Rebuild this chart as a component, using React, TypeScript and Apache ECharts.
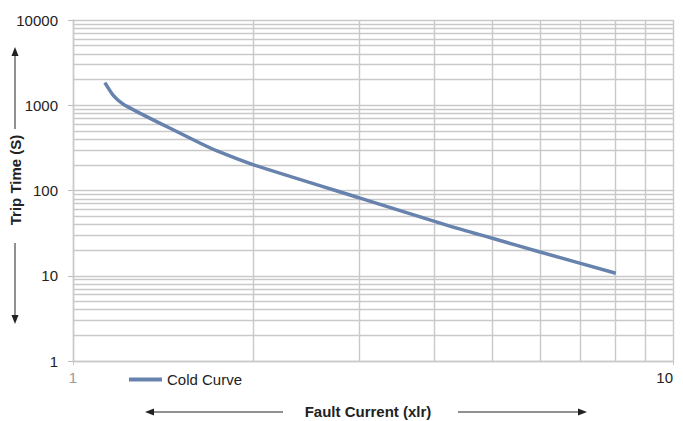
import React, { useEffect, useRef } from "react";
import * as echarts from "echarts";

const faultCurrent = [1.13, 1.168, 1.213, 1.294, 1.397, 1.509, 1.63, 1.738, 2, 3, 4.26, 5, 6, 8.03];
const tripTime = [1840, 1294, 1026, 804, 614, 469, 358, 291, 200, 82, 38, 27.5, 19, 10.7];
const seriesName = "Cold Curve";
const xTitle = "Fault Current (xlr)";
const yTitle = "Trip Time (S)";
const decadesY = [1, 10, 100, 1000];
const decadesX = [1];
const minorSteps = [2, 3, 4, 5, 6, 7, 8, 9];

const FONT = "'Liberation Sans', Arial, sans-serif";
const GRID = "#c9c9c9";
const LINE = "#6783ad";

export default function App() {
  const ref = useRef<HTMLDivElement>(null);
  useEffect(() => {
    if (!ref.current) return;
    const chart = echarts.init(ref.current, null, { renderer: "svg" });
    const minorY: number[] = [];
    decadesY.forEach((d) => minorSteps.forEach((s) => minorY.push(d * s)));
    const minorX: number[] = [];
    decadesX.forEach((d) => minorSteps.forEach((s) => minorX.push(d * s)));
    const gridMarks: any[] = [
      ...minorY.map((v) => ({ yAxis: v })),
      ...minorX.map((v) => ({ xAxis: v })),
    ];
    const arrowColor = "#222";
    chart.setOption({
      animation: false,
      backgroundColor: "#fff",
      grid: { left: 73, right: 10, top: 20, bottom: 60, containLabel: false },
      legend: {
        left: 124,
        top: 367,
        icon: "rect",
        itemWidth: 33,
        itemHeight: 4,
        itemGap: 10,
        textStyle: { fontFamily: FONT, fontSize: 15, color: "#222" },
        data: [seriesName],
      },
      xAxis: {
        type: "log",
        logBase: 10,
        min: 1,
        max: 10,
        axisLine: { show: true, lineStyle: { color: GRID, width: 1.4 } },
        axisTick: { show: true, length: 4, lineStyle: { color: GRID } },
        splitLine: { show: true, lineStyle: { color: GRID, width: 1.4 } },
        axisLabel: {
          fontFamily: FONT,
          fontSize: 15,
          margin: 9,
          formatter: (v: number) => String(Math.round(v)),
          color: (v: any) => (Number(v) === 1 ? "#999" : "#222"),
          alignMaxLabel: "right",
        },
      },
      yAxis: {
        type: "log",
        logBase: 10,
        min: 1,
        max: 10000,
        axisLine: { show: true, lineStyle: { color: GRID, width: 1.4 } },
        axisTick: { show: true, length: 5, lineStyle: { color: "#bbb" } },
        splitLine: { show: true, lineStyle: { color: GRID, width: 1.4 } },
        axisLabel: {
          fontFamily: FONT,
          fontSize: 15,
          color: "#222",
          margin: 15,
          formatter: (v: number) => String(Math.round(v)),
        },
      },
      series: [
        {
          name: seriesName,
          type: "line",
          data: faultCurrent.map((x, i) => [x, tripTime[i]]),
          symbol: "none",
          smooth: 0.2,
          lineStyle: { color: LINE, width: 3.5 },
          itemStyle: { color: LINE },
          z: 3,
          markLine: {
            silent: true,
            symbol: "none",
            label: { show: false },
            lineStyle: { color: GRID, width: 1.4, type: "solid" },
            data: gridMarks,
            z: 1,
          },
        },
      ],
      graphic: [
        {
          type: "text",
          x: 15,
          y: 180,
          rotation: Math.PI / 2,
          style: {
            text: yTitle,
            fontFamily: FONT,
            fontSize: 15,
            fontWeight: "bold",
            fill: "#222",
            align: "center",
            verticalAlign: "middle",
          },
        },
        { type: "line", shape: { x1: 15, y1: 54, x2: 15, y2: 129 }, style: { stroke: arrowColor, lineWidth: 1 } },
        { type: "polygon", shape: { points: [[15, 47], [11.5, 56], [18.5, 56]] }, style: { fill: arrowColor } },
        { type: "line", shape: { x1: 15, y1: 243, x2: 15, y2: 317 }, style: { stroke: arrowColor, lineWidth: 1 } },
        { type: "polygon", shape: { points: [[15, 324], [11.5, 315], [18.5, 315]] }, style: { fill: arrowColor } },
        {
          type: "text",
          x: 368,
          y: 411,
          style: {
            text: xTitle,
            fontFamily: FONT,
            fontSize: 15,
            fontWeight: "bold",
            fill: "#222",
            align: "center",
            verticalAlign: "middle",
          },
        },
        { type: "line", shape: { x1: 152, y1: 412, x2: 283, y2: 412 }, style: { stroke: arrowColor, lineWidth: 1 } },
        { type: "polygon", shape: { points: [[145, 412], [154, 408.5], [154, 415.5]] }, style: { fill: arrowColor } },
        { type: "line", shape: { x1: 458, y1: 412, x2: 580, y2: 412 }, style: { stroke: arrowColor, lineWidth: 1 } },
        { type: "polygon", shape: { points: [[587, 412], [578, 408.5], [578, 415.5]] }, style: { fill: arrowColor } },
      ],
    });
    return () => chart.dispose();
  }, []);
  return (
    <div
      ref={ref}
      style={{ position: "fixed", left: 0, top: 0, width: 683, height: 421, background: "#fff" }}
    />
  );
}
